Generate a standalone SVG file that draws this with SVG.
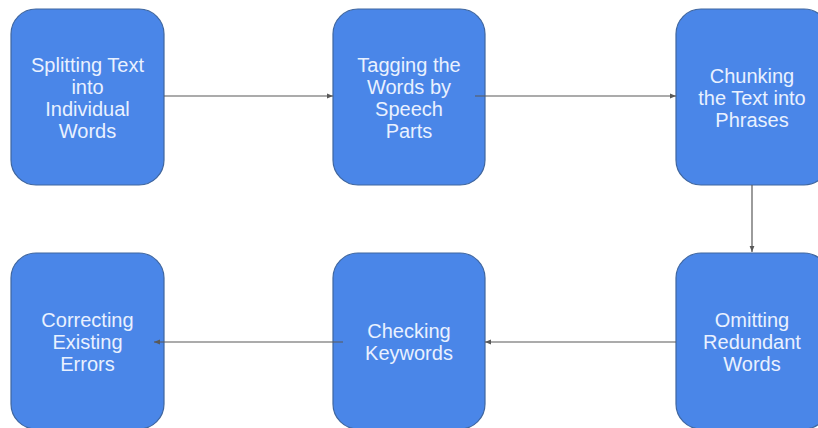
<svg xmlns="http://www.w3.org/2000/svg" width="818" height="428" viewBox="0 0 818 428">
<defs>
<style>
.box{fill:#4a86e8;stroke:#3f669f;stroke-width:1.2}
.lbl{font-family:"Liberation Sans",Arial,sans-serif;font-size:20px;fill:#e9f1ff;text-anchor:middle}
.con{stroke:#595959;stroke-width:1.2;fill:none}
</style>
<marker id="ah" viewBox="0 0 10 10" refX="10" refY="5" markerWidth="6" markerHeight="6" markerUnits="userSpaceOnUse" orient="auto">
<path d="M0,1 L10,5 L0,9 Z" fill="#595959"/>
</marker>
</defs>
<rect width="818" height="428" fill="#ffffff"/>
<g id="n1">
<rect class="box" x="11" y="9" width="153" height="176" rx="25"/>
<text class="lbl"><tspan x="87.5" y="72">Splitting Text</tspan><tspan x="87.5" y="94">into</tspan><tspan x="87.5" y="116">Individual</tspan><tspan x="87.5" y="138">Words</tspan></text>
</g>
<g id="n2">
<rect class="box" x="333" y="9" width="152" height="176" rx="25"/>
<text class="lbl"><tspan x="409" y="72">Tagging the</tspan><tspan x="409" y="94">Words by</tspan><tspan x="409" y="116">Speech</tspan><tspan x="409" y="138">Parts</tspan></text>
</g>
<g id="n3">
<rect class="box" x="676" y="9" width="153" height="176" rx="25"/>
<text class="lbl"><tspan x="752" y="83">Chunking</tspan><tspan x="752" y="105">the Text into</tspan><tspan x="752" y="127">Phrases</tspan></text>
</g>
<g id="n4">
<rect class="box" x="676" y="253" width="153" height="176" rx="25"/>
<text class="lbl"><tspan x="752" y="327">Omitting</tspan><tspan x="752" y="349">Redundant</tspan><tspan x="752" y="371">Words</tspan></text>
</g>
<g id="n5">
<rect class="box" x="333" y="253" width="152" height="176" rx="25"/>
<text class="lbl"><tspan x="409" y="338">Checking</tspan><tspan x="409" y="360">Keywords</tspan></text>
</g>
<g id="n6">
<rect class="box" x="11" y="253" width="153" height="176" rx="25"/>
<text class="lbl"><tspan x="87.5" y="327">Correcting</tspan><tspan x="87.5" y="349">Existing</tspan><tspan x="87.5" y="371">Errors</tspan></text>
</g>
<g id="connectors">
<line class="con" x1="164" y1="96" x2="333" y2="96" marker-end="url(#ah)"/>
<line class="con" x1="475" y1="96" x2="676" y2="96" marker-end="url(#ah)"/>
<line class="con" x1="752" y1="185" x2="752" y2="252" marker-end="url(#ah)"/>
<line class="con" x1="676" y1="342" x2="485" y2="342" marker-end="url(#ah)"/>
<line class="con" x1="343" y1="342" x2="154" y2="342" marker-end="url(#ah)"/>
</g>
</svg>
